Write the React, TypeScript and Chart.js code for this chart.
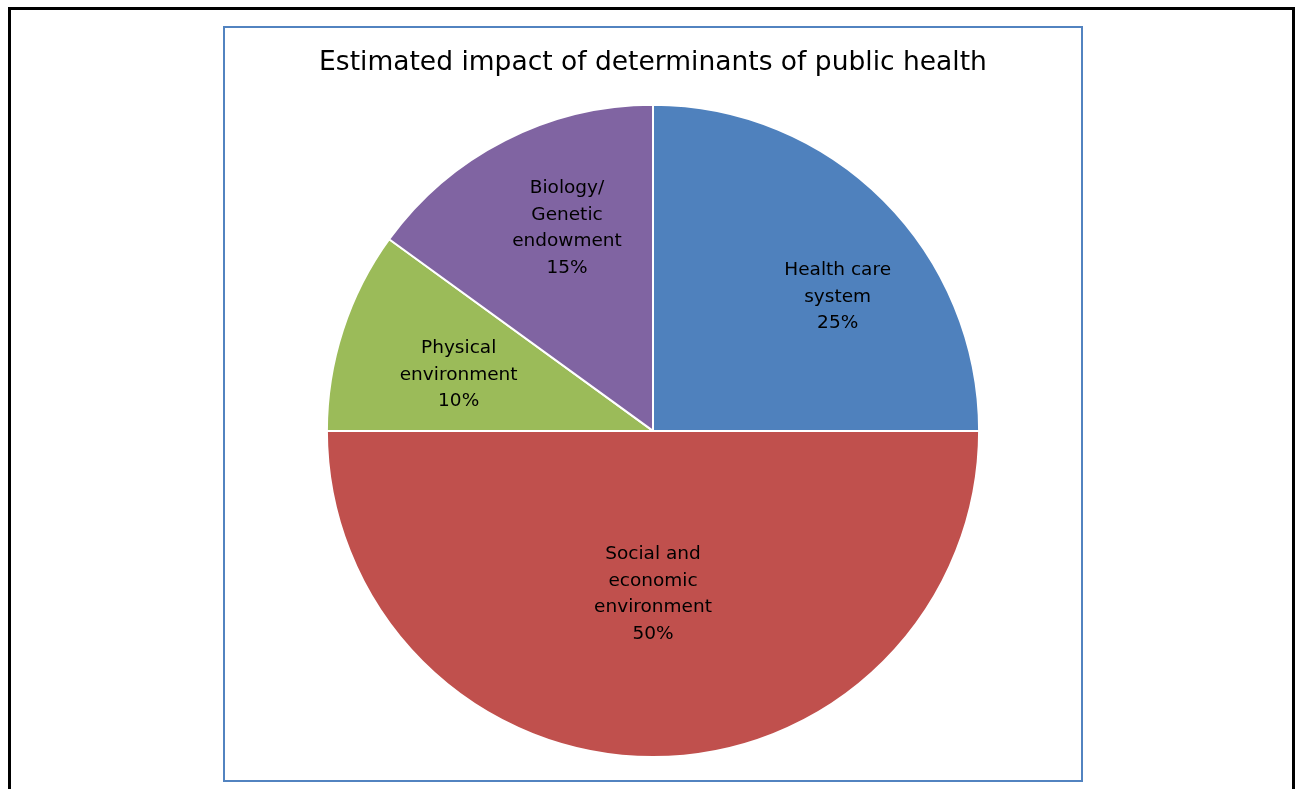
import React, { useEffect, useRef } from "react";
import { Chart, registerables } from "chart.js";

Chart.register(...registerables);

const chartTitle = "Estimated impact of determinants of public health";
const categories = [
  ["Health care", "system"],
  ["Social and", "economic", "environment"],
  ["Physical", "environment"],
  ["Biology/", "Genetic", "endowment"],
];
const shares = [25, 50, 10, 15];
const sliceColors = ["#4F81BD", "#C0504D", "#9BBB59", "#8064A2"];

// label placement inside each slice: fraction of radius and angular nudge (degrees)
const labelRadius = [0.7, 0.5, 0.62, 0.675];
const labelNudge = [9, 0, -2, 4];

const FONT = "'DejaVu Sans', Verdana, sans-serif";

const sliceLabels = {
  id: "sliceLabels",
  afterDatasetsDraw(chart: any) {
    const ctx = chart.ctx;
    const meta = chart.getDatasetMeta(0);
    ctx.save();
    ctx.fillStyle = "#000";
    ctx.font = `18.5px ${FONT}`;
    ctx.textAlign = "center";
    ctx.textBaseline = "middle";
    meta.data.forEach((arc: any, i: number) => {
      const p = arc.getProps(["x", "y", "startAngle", "endAngle", "outerRadius"], true);
      const mid = (p.startAngle + p.endAngle) / 2 + (labelNudge[i] * Math.PI) / 180;
      const r = p.outerRadius * labelRadius[i];
      const cx = p.x + Math.cos(mid) * r;
      const cy = p.y + Math.sin(mid) * r;
      const lines = [...categories[i], `${shares[i]}%`];
      const lh = 26.5;
      const top = cy - ((lines.length - 1) * lh) / 2;
      lines.forEach((t, k) => ctx.fillText(t, cx, top + k * lh));
    });
    ctx.restore();
  },
};

export default function App() {
  const ref = useRef<HTMLCanvasElement>(null);

  useEffect(() => {
    if (!ref.current) return;
    const chart = new Chart(ref.current, {
      type: "pie",
      data: {
        labels: categories.map((c) => c.join(" ")),
        datasets: [
          {
            data: shares,
            backgroundColor: sliceColors,
            borderColor: "#ffffff",
            borderWidth: 2,
          },
        ],
      },
      options: {
        animation: false,
        responsive: false,
        maintainAspectRatio: false,
        layout: { padding: { top: 0, bottom: 22, left: 0, right: 0 } },
        plugins: {
          legend: { display: false },
          tooltip: { enabled: false },
          title: {
            display: true,
            text: chartTitle,
            color: "#000",
            font: { family: FONT, size: 26.5, weight: "normal" },
            padding: { top: 19, bottom: 25 },
          },
        },
      },
      plugins: [sliceLabels],
    });
    return () => chart.destroy();
  }, []);

  return (
    <div
      style={{
        position: "absolute",
        left: 8,
        top: 7,
        width: 1287,
        height: 782,
        borderLeft: "3px solid #000",
        borderTop: "3px solid #000",
        borderRight: "3px solid #000",
        boxSizing: "border-box",
        background: "#fff",
      }}
    >
      <div
        style={{
          position: "absolute",
          left: 212,
          top: 16,
          width: 860,
          height: 756,
          border: "2px solid #5283C0",
          boxSizing: "border-box",
        }}
      >
        <canvas ref={ref} width={856} height={752} style={{ display: "block" }} />
      </div>
    </div>
  );
}
